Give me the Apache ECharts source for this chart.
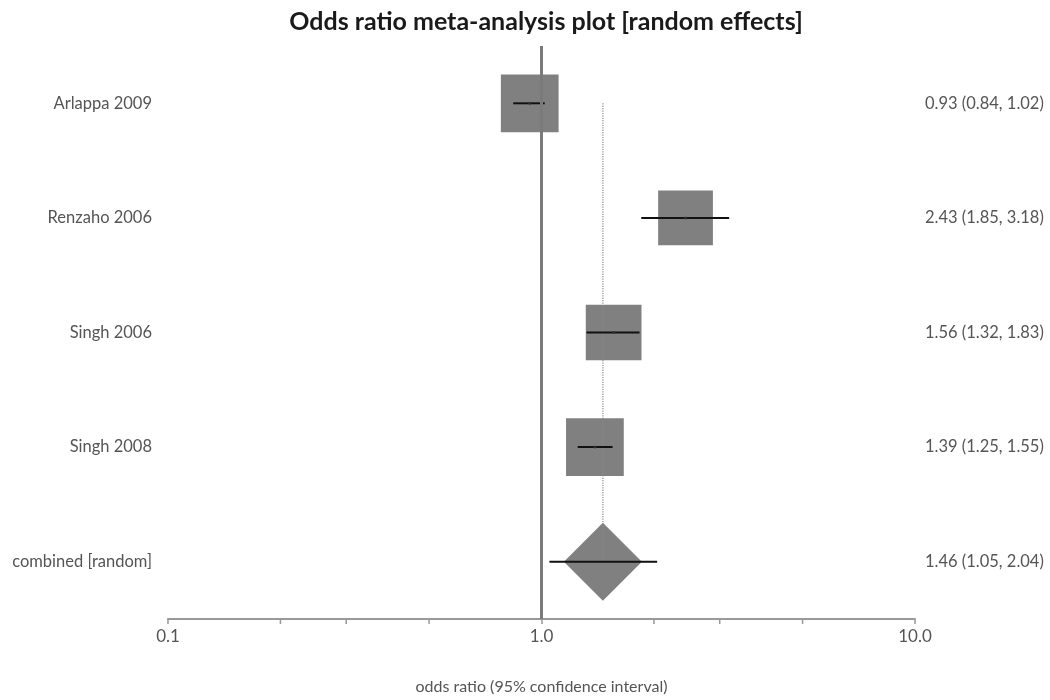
<!DOCTYPE html>
<html>
<head>
<meta charset="utf-8">
<script src="https://cdn.jsdelivr.net/npm/echarts@6/dist/echarts.min.js"></script>
<style>
html,body{margin:0;padding:0;background:#fff;}
#chart{width:1050px;height:700px;}
</style>
</head>
<body>
<div id="chart"></div>
<script>
// ---- data ----
const studies = ['Arlappa 2009', 'Renzaho 2006', 'Singh 2006', 'Singh 2008', 'combined [random]'];
const oddsRatio = [0.93, 2.43, 1.56, 1.39, 1.46];
const ciLower = [0.84, 1.85, 1.32, 1.25, 1.05];
const ciUpper = [1.02, 3.18, 1.83, 1.55, 2.04];
const studyWeights = [26.1, 23.5, 24.3, 26.1]; // relative weights (%) of the four studies
const majorTicks = [0.1, 1, 10];
const minorTicks = [0.2, 0.3, 0.5, 2, 3, 5];
const titleText = 'Odds ratio meta-analysis plot [random effects]';
const xAxisTitle = 'odds ratio (95% confidence interval)';

// ---- build ----
const nStudies = studyWeights.length;
const combinedIdx = studies.length - 1;
const rightLabels = oddsRatio.map((v, i) =>
  v.toFixed(2) + ' (' + ciLower[i].toFixed(2) + ', ' + ciUpper[i].toFixed(2) + ')');

const squareData = studyWeights.map((w, i) => ({
  value: [oddsRatio[i], i],
  symbolSize: Math.sqrt(w) * 11.3
}));

const chart = echarts.init(document.getElementById('chart'), null, {renderer: 'canvas'});
const font = 'Lato, "Open Sans", sans-serif';

chart.setOption({
  animation: false,
  backgroundColor: '#ffffff',
  title: {
    text: titleText,
    left: 541,
    top: 4,
    textAlign: 'center',
    textStyle: {fontFamily: font, fontSize: 25, fontWeight: 'bold', color: '#1a1a1a'}
  },
  grid: {left: 168, right: 135, top: 46, bottom: 76, containLabel: false},
  xAxis: {
    type: 'log',
    logBase: 10,
    min: majorTicks[0],
    max: majorTicks[majorTicks.length - 1],
    name: xAxisTitle,
    nameLocation: 'middle',
    nameGap: 60,
    nameTextStyle: {fontFamily: font, fontSize: 16, color: '#555'},
    axisLine: {show: true, lineStyle: {color: '#999', width: 2}},
    axisTick: {show: true, length: 5, lineStyle: {color: '#999', width: 1.5}},
    axisLabel: {
      fontFamily: font, fontSize: 17, color: '#555', margin: 9,
      formatter: v => Number(v).toFixed(1)
    },
    splitLine: {show: false}
  },
  yAxis: [
    {
      type: 'category',
      inverse: true,
      data: studies,
      axisLine: {show: false},
      axisTick: {show: false},
      splitLine: {show: false},
      axisLabel: {fontFamily: font, fontSize: 16.5, color: '#555', margin: 16}
    },
    {
      type: 'category',
      inverse: true,
      position: 'right',
      data: rightLabels,
      axisLine: {show: false},
      axisTick: {show: false},
      splitLine: {show: false},
      axisLabel: {fontFamily: font, fontSize: 16.5, color: '#555', margin: 10, align: 'left'}
    }
  ],
  series: [
    {
      name: 'studies',
      type: 'scatter',
      symbol: 'rect',
      data: squareData,
      itemStyle: {color: '#808080', opacity: 1},
      z: 2,
      silent: true
    },
    {
      name: 'combined',
      type: 'scatter',
      symbol: 'diamond',
      symbolSize: [78, 78],
      data: [[oddsRatio[combinedIdx], combinedIdx]],
      itemStyle: {color: '#808080', opacity: 1},
      z: 2,
      silent: true
    },
    {
      name: 'pooled',
      type: 'line',
      data: [[oddsRatio[combinedIdx], 0], [oddsRatio[combinedIdx], combinedIdx]],
      symbol: 'none',
      lineStyle: {color: '#8a8a8a', width: 1.2, type: 'dotted'},
      z: 3,
      silent: true
    },
    {
      name: 'ci',
      type: 'custom',
      data: oddsRatio.map((v, i) => [ciLower[i], ciUpper[i], i]),
      renderItem: (params, api) => {
        const a = api.coord([api.value(0), api.value(2)]);
        const b = api.coord([api.value(1), api.value(2)]);
        return {
          type: 'line',
          shape: {x1: a[0], y1: a[1], x2: b[0], y2: b[1]},
          style: {stroke: '#111', lineWidth: 2}
        };
      },
      markLine: {
        silent: true,
        symbol: 'none',
        label: {show: false},
        lineStyle: {color: '#7a7a7a', width: 3, type: 'solid'},
        data: [{xAxis: 1}]
      },
      z: 4,
      silent: true
    },
    {
      name: 'centers',
      type: 'scatter',
      symbol: 'circle',
      symbolSize: 3,
      data: oddsRatio.slice(0, nStudies).map((v, i) => [v, i]),
      itemStyle: {color: '#333'},
      z: 5,
      silent: true
    },
    {
      name: 'minorTicks',
      type: 'custom',
      data: minorTicks.map(v => [v, 0]),
      renderItem: (params, api) => {
        const p = api.coord([api.value(0), 0]);
        const cs = params.coordSys;
        const yb = cs.y + cs.height;
        return {
          type: 'line',
          shape: {x1: p[0], y1: yb, x2: p[0], y2: yb + 5},
          style: {stroke: '#999', lineWidth: 1.5}
        };
      },
      z: 1,
      silent: true
    }
  ]
});
</script>
</body>
</html>
